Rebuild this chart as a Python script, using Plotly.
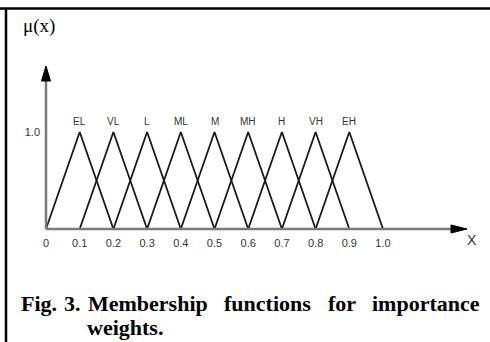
import plotly.graph_objects as go

# ---- data ----
labels = ["EL", "VL", "L", "ML", "M", "MH", "H", "VH", "EH"]
lefts = [0.0, 0.1, 0.2, 0.3, 0.4, 0.5, 0.6, 0.7, 0.8]
peaks = [0.1, 0.2, 0.3, 0.4, 0.5, 0.6, 0.7, 0.8, 0.9]
rights = [0.2, 0.3, 0.4, 0.5, 0.6, 0.7, 0.8, 0.9, 1.0]
x_tick_vals = [0, 0.1, 0.2, 0.3, 0.4, 0.5, 0.6, 0.7, 0.8, 0.9, 1.0]
x_tick_text = ["0", "0.1", "0.2", "0.3", "0.4", "0.5", "0.6", "0.7", "0.8", "0.9", "1.0"]
y_tick_vals = [1.0]
y_tick_text = ["1.0"]
caption_line1 = ["Fig.", "3.", "Membership", "functions", "for", "importance"]
caption_line2 = "weights."

W, H = 490, 342
# pixel mapping of data space
X0_PX, X1_PX = 46, 383      # x = 0 and x = 1
Y0_PX, Y1_PX = 229, 132     # y = 0 and y = 1
sx = X1_PX - X0_PX
sy = Y0_PX - Y1_PX
xr = [-X0_PX / sx, (W - X0_PX) / sx]
yr = [(Y0_PX - H) / sy, Y0_PX / sy]

def dx(px):
    return (px - X0_PX) / sx

def dy(py):
    return (Y0_PX - py) / sy

fig = go.Figure()

for lab, a, b, c in zip(labels, lefts, peaks, rights):
    fig.add_trace(go.Scatter(
        x=[a, b, c], y=[0, 1, 0], mode="lines",
        line=dict(color="#1a1a1a", width=1.8), name=lab,
        showlegend=False, hoverinfo="skip"))

axis_col = "#7a7a7a"
shapes = []
shapes.append(dict(type="line", xref="x", yref="y", x0=0, y0=0, x1=dx(455), y1=0,
                   line=dict(color=axis_col, width=2.5)))
shapes.append(dict(type="line", xref="x", yref="y", x0=0, y0=0, x1=0, y1=dy(78),
                   line=dict(color=axis_col, width=2.5)))
shapes.append(dict(type="path", xref="x", yref="y",
                   path=f"M {dx(451)} {dy(225)} L {dx(467)} {dy(229)} L {dx(451)} {dy(233)} Z",
                   fillcolor="#000", line=dict(color="#000", width=1)))
shapes.append(dict(type="path", xref="x", yref="y",
                   path=f"M {dx(41.5)} {dy(81)} L {dx(46)} {dy(66)} L {dx(50.5)} {dy(81)} Z",
                   fillcolor="#000", line=dict(color="#000", width=1)))
shapes.append(dict(type="line", xref="paper", yref="paper", x0=0, y0=1 - 8.5 / H, x1=1, y1=1 - 8.5 / H,
                   line=dict(color="#000", width=2.5)))
shapes.append(dict(type="line", xref="paper", yref="paper", x0=6 / W, y0=1 - 8 / H, x1=6 / W, y1=0,
                   line=dict(color="#000", width=2.5)))

annotations = []
for lab, b in zip(labels, peaks):
    annotations.append(dict(x=b, y=dy(121), xref="x", yref="y", text=lab, showarrow=False,
                            font=dict(family="Liberation Sans, Arial", size=10, color="#333")))
annotations.append(dict(x=dx(472), y=dy(240), xref="x", yref="y", text="X", showarrow=False,
                        font=dict(family="Liberation Sans, Arial", size=14, color="#333")))
annotations.append(dict(x=21 / W, y=1 - 26 / H, xref="paper", yref="paper", text="μ(x)",
                        showarrow=False, xanchor="left", yanchor="middle",
                        font=dict(family="Liberation Serif, Times New Roman", size=19, color="#000")))

# caption: "Fig. 3." normal spacing, rest justified to the right edge
CAP_SIZE = 22
cap_font = dict(family="Liberation Serif, Times New Roman", size=CAP_SIZE, color="#000")
em_w = {"Fig.": 1.639, "3.": 0.75, "Membership": 5.444, "functions": 3.945,
        "for": 1.277, "importance": 4.888}
fixed_left = {"Fig.": 20, "3.": 63, "Membership": 87}
rest = ["functions", "for", "importance"]
mem_end = fixed_left["Membership"] + em_w["Membership"] * CAP_SIZE
right_edge = 479
gap = (right_edge - mem_end - sum(em_w[w] * CAP_SIZE for w in rest)) / len(rest)
pos = mem_end + gap
word_left = dict(fixed_left)
for w in rest:
    word_left[w] = pos
    pos += em_w[w] * CAP_SIZE + gap
for word in caption_line1:
    annotations.append(dict(x=word_left[word] / W, y=1 - 303 / H, xref="paper", yref="paper",
                            text=f"<b>{word}</b>", showarrow=False, xanchor="left",
                            yanchor="middle", font=cap_font, borderpad=0))
annotations.append(dict(x=86 / W, y=1 - 327 / H, xref="paper", yref="paper",
                        text=f"<b>{caption_line2}</b>", showarrow=False, xanchor="left",
                        yanchor="middle", font=cap_font, borderpad=0))

fig.update_layout(
    width=W, height=H,
    margin=dict(l=0, r=0, t=0, b=0),
    paper_bgcolor="white", plot_bgcolor="white",
    shapes=shapes, annotations=annotations,
    xaxis=dict(range=xr, tickvals=x_tick_vals, ticktext=x_tick_text, showgrid=False,
               zeroline=False, showline=False, ticks="", anchor="free",
               position=1 - Y0_PX / H, ticklabelstandoff=6,
               tickfont=dict(family="Liberation Sans, Arial", size=11, color="#333"),
               fixedrange=True),
    yaxis=dict(range=yr, tickvals=y_tick_vals, ticktext=y_tick_text, showgrid=False,
               zeroline=False, showline=False, ticks="", anchor="free",
               position=X0_PX / W, ticklabelstandoff=6,
               tickfont=dict(family="Liberation Sans, Arial", size=11, color="#333"),
               fixedrange=True),
    showlegend=False,
)

fig.write_html("out.html", config={"displayModeBar": False},
               post_script="document.body.style.margin='0';document.body.style.overflow='hidden';")
